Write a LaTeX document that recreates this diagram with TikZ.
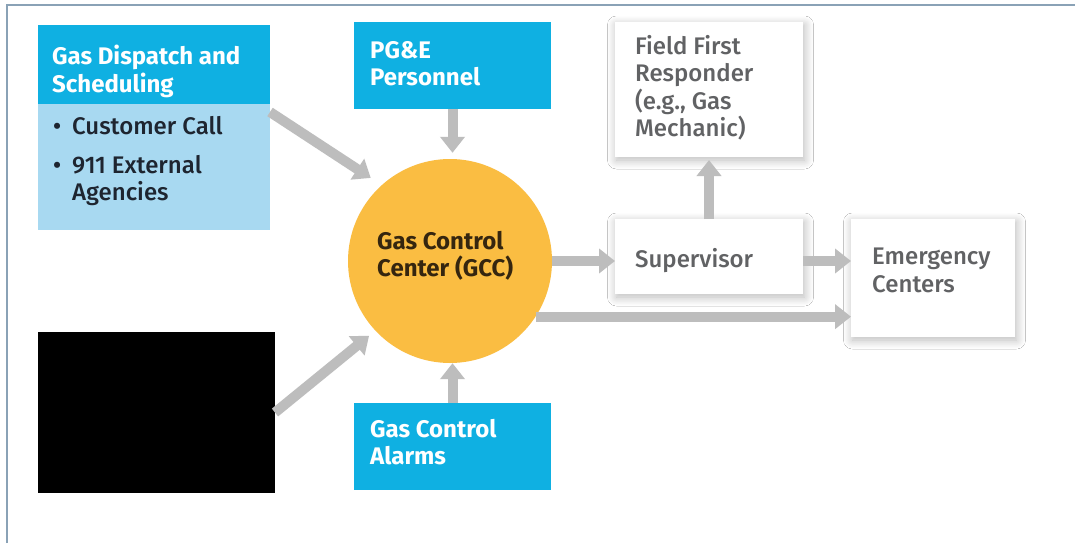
\documentclass[tikz,border=0pt]{standalone}
\usepackage{fontspec}
\setmainfont{Fira Sans}
\newfontfamily\firamedium{Fira Sans Medium}
\usetikzlibrary{arrows.meta,calc,shadows.blur}

\definecolor{hdrblue}{HTML}{0FB0E2}
\definecolor{lightblue}{HTML}{A8D9F1}
\definecolor{gccorange}{HTML}{FABD42}
\definecolor{arrowgray}{HTML}{BDBDBD}
\definecolor{txtgray}{HTML}{616264}
\definecolor{txtdark}{HTML}{1E2530}
\definecolor{gcctext}{HTML}{35260F}
\definecolor{framecol}{HTML}{8AA2B6}

\tikzset{
  box/.style={anchor=north west, inner sep=0pt, outer sep=0pt},
  bluebox/.style={box, fill=hdrblue},
  whitebox/.style={box, fill=white,
    blur shadow={shadow xshift=1.5pt, shadow yshift=-3pt, shadow blur radius=9pt,
      shadow blur steps=14, shadow opacity=28}},
  txt/.style={anchor=north west, inner sep=0pt, align=left,
    font=\fontsize{24}{27.5}\selectfont\firamedium},
  hdrtxt/.style={txt, text=white, font=\fontsize{24}{27.5}\selectfont\bfseries},
  graytxt/.style={txt, text=txtgray},
  flow/.style={draw=arrowgray, line width=10pt,
    -{Triangle[width=24pt,length=16pt]}},
}

\begin{document}
\begin{tikzpicture}[x=1pt,y=-1pt]
  \useasboundingbox (0,0) rectangle (1075,543);
  \fill[white] (0,0) rectangle (1075,543);
  % frame along the top and left edges
  \draw[framecol, line width=2.5pt] (7,543) -- (7,5) -- (1075,5);

  % source boxes
  \node[bluebox, minimum width=232, minimum height=79] (disph) at (38,25) {};
  \node[box, fill=lightblue, minimum width=232, minimum height=126] (displ) at (38,104) {};
  \node[bluebox, minimum width=197, minimum height=87] (pge) at (354,22) {};
  \node[box, fill=black, minimum width=237, minimum height=161] (blk) at (38,332) {};
  \node[bluebox, minimum width=197, minimum height=87] (gca) at (354,403) {};

  % control centre
  \node[circle, fill=gccorange, minimum size=204, inner sep=0pt] (gcc) at (450,261) {};

  % recipients
  \node[whitebox, minimum width=188, minimum height=135] (ffr) at (615,22) {};
  \node[whitebox, minimum width=188, minimum height=75] (sup) at (615,219) {};
  \node[whitebox, minimum width=164, minimum height=118] (emc) at (851,219) {};

  % labels
  \node[hdrtxt] at (52,45) {Gas Dispatch and\\Scheduling};
  \node[txt, text=txtdark] at (53,116)
    {\makebox[19pt][l]{•}Customer Call\\[11.5pt]\makebox[19pt][l]{•}911 External\\\hspace*{19pt}Agencies};
  \node[hdrtxt] at (370,41) {PG\&E\\Personnel};
  \node[hdrtxt] at (370,419) {Gas Control\\Alarms};
  \node[txt, text=gcctext, font=\fontsize{24}{27.5}\selectfont\bfseries] at (377,231)
    {Gas Control\\Center (GCC)};
  \node[graytxt] at (635,35) {Field First\\Responder\\(e.g., Gas\\Mechanic)};
  \node[graytxt] at (635,248) {Supervisor};
  \node[graytxt] at (872,248) {Emergency\\Centers};

  % connectors
  \draw[flow, shorten >=13pt] ($(displ.north east)+(0,8)$) -- (gcc.132);
  \draw[flow, shorten >=8pt] (blk.east) -- (gcc.223);
  \draw[flow, shorten >=6pt] (pge.south) -- (pge.south |- gcc.north);
  \draw[flow] (gca.north) -- (gca.north |- gcc.south);
  \draw[flow] (gcc.east) -- (gcc.east -| sup.west);
  \draw[flow, shorten >=3pt] (sup.north) -- (ffr.south);
  \draw[flow] (sup.east |- gcc.east) -- (gcc.east -| emc.west);
  \draw[flow] (gcc.-33.3) -- (gcc.-33.3 -| emc.west);
\end{tikzpicture}
\end{document}
